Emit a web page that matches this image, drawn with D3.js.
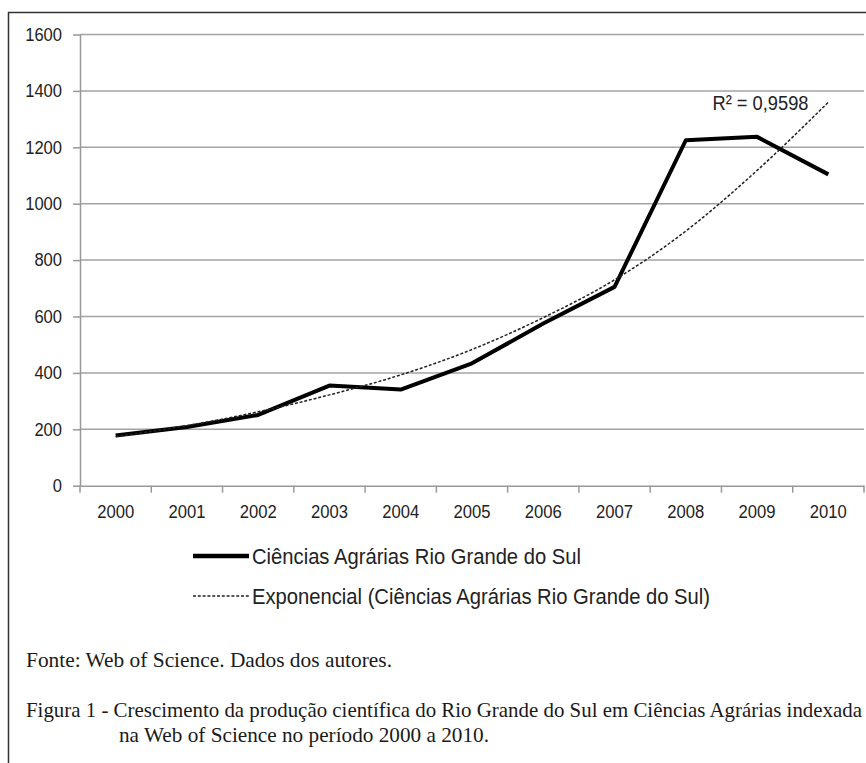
<!DOCTYPE html>
<html>
<head>
  <meta charset="utf-8">
  <script src="https://d3js.org/d3.v7.min.js"></script>
  <style>
    body { margin: 0; background: #fff; }
    svg { display: block; }
  </style>
</head>
<body>
<script type="text/javascript">
  // values
  var years = ["2000", "2001", "2002", "2003", "2004", "2005", "2006", "2007", "2008", "2009", "2010"];
  var producao = [178, 208, 251, 355, 341, 434, 575, 705, 1225, 1237, 1104];
  var exponencial = [174, 213, 262, 322, 393, 483, 596, 730, 903, 1118, 1360];
  var yTicks = [0, 200, 400, 600, 800, 1000, 1200, 1400, 1600];
  var serieLabel = "Ciências Agrárias Rio Grande do Sul";
  var trendLabel = "Exponencial (Ciências Agrárias Rio Grande do Sul)";
  var r2Label = "R² = 0,9598";
  var fonte = "Fonte: Web of Science. Dados dos autores.";
  var legenda = ["Figura 1 - Crescimento da produção científica do Rio Grande do Sul em Ciências Agrárias indexada",
                 "na Web of Science no período 2000 a 2010."];

  function draw() {
    "use strict";
    var width = 866,
        height = 763,
        left = 80, right = 864, top = 34.5, bottom = 485.7,
        sans = "'Liberation Sans', Arial, sans-serif";

    var svg = d3.select("body").append("svg")
      .attr("width", width)
      .attr("height", height);

    // frame round the figure
    svg.append("path")
      .attr("d", "M8.5,763 L8.5,12.5 L866,12.5")
      .attr("fill", "none")
      .attr("stroke", "#333")
      .attr("stroke-width", 1.5);

    var x = d3.scaleBand().domain(years).range([left, right]).padding(0);
    var y = d3.scaleLinear().domain([0, 1600]).range([bottom, top]);
    var cx = function(d) { return x(d) + x.bandwidth() / 2; };

    // gridlines
    svg.append("g").selectAll("line")
      .data(yTicks.slice(1))
      .enter().append("line")
        .attr("x1", left).attr("x2", right)
        .attr("y1", function(d) { return y(d); })
        .attr("y2", function(d) { return y(d); })
        .attr("stroke", "#a3a3a3")
        .attr("stroke-width", 1.5);

    /*
      axes
    */
    var yAxis = svg.append("g")
      .attr("transform", "translate(" + left + ",0)")
      .call(d3.axisLeft(y).tickValues(yTicks).tickFormat(d3.format("d"))
        .tickSize(7).tickPadding(11).tickSizeOuter(0));
    yAxis.select(".domain").attr("stroke", "#999").attr("stroke-width", 1.5);
    yAxis.selectAll(".tick line").attr("stroke", "#999").attr("stroke-width", 1.5);
    yAxis.selectAll("text")
      .attr("textLength", function(d) { return String(d).length * 9.2; })
      .attr("lengthAdjust", "spacingAndGlyphs")
      .style("font-family", sans)
      .style("font-size", "18px")
      .attr("fill", "#222");

    var xAxis = svg.append("g")
      .attr("transform", "translate(0," + bottom + ")")
      .call(d3.axisBottom(x).tickSize(0).tickPadding(0).tickSizeOuter(0));
    xAxis.select(".domain").attr("stroke", "#999").attr("stroke-width", 1.5);
    xAxis.selectAll("text")
      .attr("y", 32.5)
      .attr("dy", 0)
      .attr("textLength", 37)
      .attr("lengthAdjust", "spacingAndGlyphs")
      .style("font-family", sans)
      .style("font-size", "18px")
      .attr("fill", "#222");

    // category boundary ticks
    svg.append("g").selectAll("line")
      .data(years.concat(["end"]))
      .enter().append("line")
        .attr("x1", function(d) { return d === "end" ? right : x(d); })
        .attr("x2", function(d) { return d === "end" ? right : x(d); })
        .attr("y1", bottom).attr("y2", bottom + 7)
        .attr("stroke", "#999")
        .attr("stroke-width", 1.5);

    /*
      series
    */
    var trend = d3.line()
      .x(function(d, i) { return cx(years[i]); })
      .y(function(d) { return y(d); })
      .curve(d3.curveMonotoneX);

    var serie = d3.line()
      .x(function(d, i) { return cx(years[i]); })
      .y(function(d) { return y(d); });

    svg.append("path")
      .datum(producao)
      .attr("d", serie)
      .attr("fill", "none")
      .attr("stroke", "#000")
      .attr("stroke-width", 4)
      .attr("stroke-linejoin", "round");

    svg.append("path")
      .datum(exponencial)
      .attr("d", trend)
      .attr("fill", "none")
      .attr("stroke", "#222")
      .attr("stroke-width", 1.5)
      .attr("stroke-dasharray", "3,1.8");

    svg.append("text")
      .attr("x", 712.5).attr("y", 110)
      .attr("textLength", 96)
      .attr("lengthAdjust", "spacingAndGlyphs")
      .style("font-family", sans)
      .style("font-size", "20px")
      .attr("fill", "#222")
      .text(r2Label);

    // legend
    var leg = svg.append("g");
    leg.append("line")
      .attr("x1", 193).attr("x2", 249).attr("y1", 556).attr("y2", 556)
      .attr("stroke", "#000").attr("stroke-width", 4.5);
    leg.append("line")
      .attr("x1", 193).attr("x2", 249).attr("y1", 596).attr("y2", 596)
      .attr("stroke", "#222").attr("stroke-width", 1.5)
      .attr("stroke-dasharray", "3,1.8");
    leg.selectAll("text")
      .data([[serieLabel, 564, 329], [trendLabel, 604, 458]])
      .enter().append("text")
        .attr("x", 252)
        .attr("y", function(d) { return d[1]; })
        .attr("textLength", function(d) { return d[2]; })
        .attr("lengthAdjust", "spacingAndGlyphs")
        .style("font-family", sans)
        .style("font-size", "22px")
        .attr("fill", "#222")
        .text(function(d) { return d[0]; });

    // source and caption
    var cap = [[fonte, 26, 667, 366], [legenda[0], 26, 717, 836], [legenda[1], 119, 742, 370]];
    svg.append("g").selectAll("text")
      .data(cap)
      .enter().append("text")
        .attr("x", function(d) { return d[1]; })
        .attr("y", function(d) { return d[2]; })
        .attr("textLength", function(d) { return d[3]; })
        .attr("lengthAdjust", "spacingAndGlyphs")
        .style("font-family", "'Liberation Serif', 'Times New Roman', serif")
        .style("font-size", "21px")
        .attr("fill", "#1a1a1a")
        .text(function(d) { return d[0]; });
  }

  draw();
</script>
</body>
</html>
